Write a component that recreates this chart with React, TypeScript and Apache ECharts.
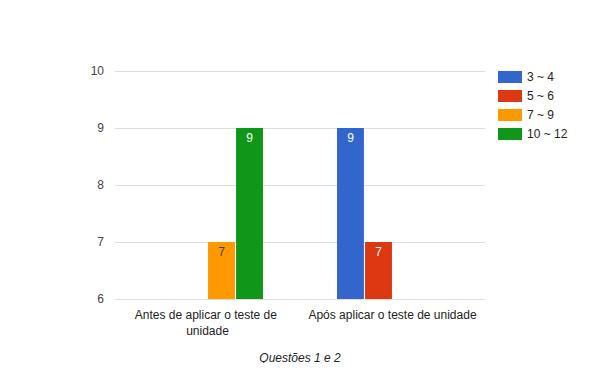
import React, { useEffect, useRef } from "react";
import * as echarts from "echarts";

const categories = ["Antes de aplicar o teste de unidade", "Após aplicar o teste de unidade"];
const seriesNames = ["3 ~ 4", "5 ~ 6", "7 ~ 9", "10 ~ 12"];
const values34 = [null, 9];
const values56 = [null, 7];
const values79 = [7, null];
const values1012 = [9, null];
const colors = ["#3366cc", "#dc3912", "#ff9900", "#109618"];
const labelColors = ["#ffffff", "#ffffff", "#404040", "#ffffff"];
const yTicks = { min: 6, max: 10, interval: 1 };
const axisName = "Questões 1 e 2";

const FONT = "Arial, 'Liberation Sans', sans-serif";

export default function App() {
  const ref = useRef<HTMLDivElement>(null);
  useEffect(() => {
    if (!ref.current) return;
    const chart = echarts.init(ref.current, undefined, { renderer: "svg" });
    const data = [values34, values56, values79, values1012];
    chart.setOption({
      animation: false,
      textStyle: { fontFamily: FONT },
      grid: { left: 115, right: 115, top: 71, bottom: 72, containLabel: false },
      legend: {
        orient: "vertical",
        left: 498,
        top: 71,
        itemWidth: 24,
        itemHeight: 12,
        itemGap: 7,
        icon: "rect",
        padding: 0,
        textStyle: { fontSize: 12, color: "#222222", fontFamily: FONT },
        data: seriesNames,
      },
      xAxis: {
        type: "category",
        data: categories,
        name: axisName,
        nameLocation: "middle",
        nameGap: 53,
        nameTextStyle: { fontStyle: "italic", fontSize: 12, color: "#222222", fontFamily: FONT },
        axisLine: { show: false },
        axisTick: { show: false },
        axisLabel: {
          interval: 0,
          fontSize: 12,
          color: "#222222",
          fontFamily: FONT,
          width: 180,
          overflow: "break",
          lineHeight: 16,
          margin: 8,
        },
      },
      yAxis: {
        type: "value",
        min: yTicks.min,
        max: yTicks.max,
        interval: yTicks.interval,
        axisLine: { show: false },
        axisTick: { show: false },
        splitLine: { lineStyle: { color: "#dddddd", width: 1 } },
        axisLabel: { fontSize: 12, color: "#444444", fontFamily: FONT, margin: 11 },
      },
      series: seriesNames.map((name, i) => ({
        name,
        type: "bar",
        data: data[i],
        itemStyle: { color: colors[i] },
        barGap: "4%",
        barCategoryGap: "40%",
        label: {
          show: true,
          position: "insideTop",
          distance: 4,
          color: labelColors[i],
          fontSize: 12,
          fontFamily: FONT,
        },
      })),
    });
    return () => chart.dispose();
  }, []);
  return <div ref={ref} style={{ width: 600, height: 371, margin: -8 }} />;
}
